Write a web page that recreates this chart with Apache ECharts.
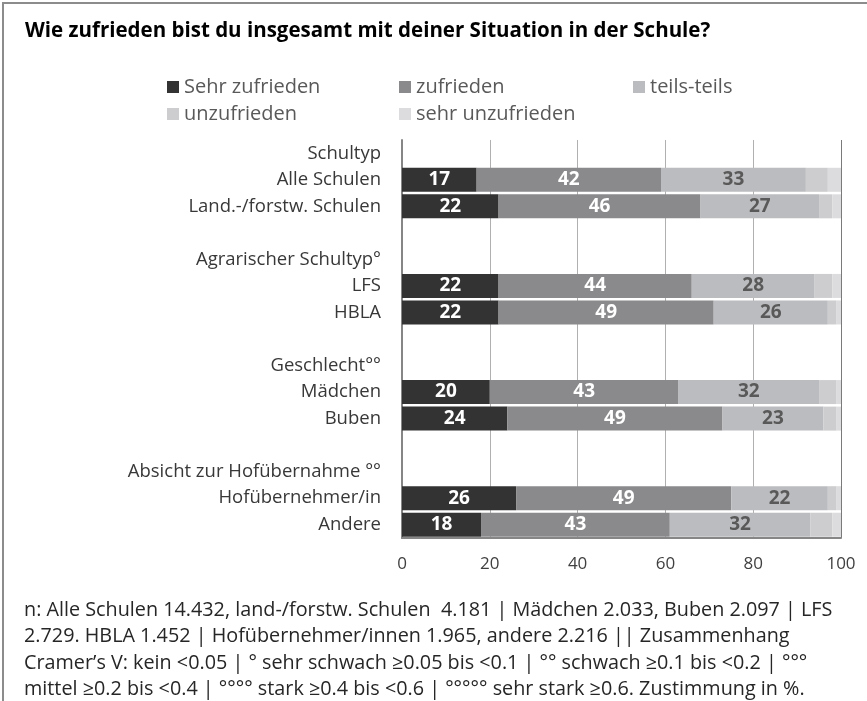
<!DOCTYPE html>
<html>
<head>
<meta charset="utf-8">
<script src="https://cdn.jsdelivr.net/npm/echarts@6/dist/echarts.min.js"></script>
<style>
  html, body { margin: 0; padding: 0; background: #fff; }
  #chart { width: 867px; height: 701px; }
</style>
</head>
<body>
<div id="chart"></div>
<script>
const FONT = '"Open Sans", sans-serif'

const categories = [
  'Schultyp', 'Alle Schulen', 'Land.-/forstw. Schulen', ' ',
  'Agrarischer Schultyp°', 'LFS', 'HBLA', '  ',
  'Geschlecht°°', 'Mädchen', 'Buben', '   ',
  'Absicht zur Hofübernahme °°', 'Hofübernehmer/in', 'Andere'
]
const seriesNames = ['Sehr zufrieden', 'zufrieden', 'teils-teils', 'unzufrieden', 'sehr unzufrieden']
const sehrZufrieden   = ['-', 17, 22, '-', '-', 22, 22, '-', '-', 20, 24, '-', '-', 26, 18]
const zufrieden       = ['-', 42, 46, '-', '-', 44, 49, '-', '-', 43, 49, '-', '-', 49, 43]
const teilsTeils      = ['-', 33, 27, '-', '-', 28, 26, '-', '-', 32, 23, '-', '-', 22, 32]
const unzufrieden     = ['-', 5, 3, '-', '-', 4, 2, '-', '-', 4, 3, '-', '-', 2, 5]
const sehrUnzufrieden = ['-', 3, 2, '-', '-', 2, 1, '-', '-', 1, 1, '-', '-', 1, 2]
const xTicks = [0, 20, 40, 60, 80, 100]

const footnote = [
  'n: Alle Schulen 14.432, land-/forstw. Schulen  4.181 | Mädchen 2.033, Buben 2.097 | LFS',
  '2.729. HBLA 1.452 | Hofübernehmer/innen 1.965, andere 2.216 || Zusammenhang',
  'Cramer’s V: kein <0.05 | ° sehr schwach ≥0.05 bis <0.1 | °° schwach ≥0.1 bis <0.2 | °°°',
  'mittel ≥0.2 bis <0.4 | °°°° stark ≥0.4 bis <0.6 | °°°°° sehr stark ≥0.6. Zustimmung in %.'
]

const colors = ['#333333', '#8a8a8c', '#bbbcbf', '#cdcdcf', '#dcdcde']
const values = [sehrZufrieden, zufrieden, teilsTeils, unzufrieden, sehrUnzufrieden]
const labelColors = ['#ffffff', '#ffffff', '#595959', null, null]

// legend positions (two rows, fixed columns)
const legendPos = [[167, 77], [399, 77], [633, 77], [167, 104], [399, 104]]

const chart = echarts.init(document.getElementById('chart'), null, { renderer: 'canvas' })

const option = {
  backgroundColor: '#fff',
  animation: false,
  textStyle: { fontFamily: FONT },
  title: {
    text: 'Wie zufrieden bist du insgesamt mit deiner Situation in der Schule?',
    left: 20,
    top: 16,
    textStyle: { fontFamily: FONT, fontSize: 20.5, fontWeight: 'bold', color: '#000' }
  },
  legend: seriesNames.map((n, i) => ({
    data: [n],
    left: legendPos[i][0],
    top: legendPos[i][1],
    icon: 'rect',
    itemWidth: 12,
    itemHeight: 12,
    padding: 0,
    selectedMode: false,
    textStyle: { fontFamily: FONT, fontSize: 20, color: '#595959', padding: [0, 0, 0, 0] }
  })),
  grid: { left: 402, right: 26, top: 140, bottom: 163, containLabel: false },
  xAxis: {
    type: 'value',
    min: 0,
    max: 100,
    interval: 20,
    axisLine: { show: true, lineStyle: { color: '#868686', width: 2 } },
    axisTick: { show: false },
    axisLabel: {
      margin: 18,
      fontFamily: FONT,
      fontSize: 17,
      color: '#404040',
      formatter: v => xTicks.includes(v) ? String(v) : ''
    },
    splitLine: {
      show: true,
      lineStyle: { color: ['#868686', '#b0b0b0', '#b0b0b0', '#b0b0b0', '#b0b0b0', '#7a7a7a'], width: 1 }
    }
  },
  yAxis: {
    type: 'category',
    inverse: true,
    data: categories,
    axisLine: { show: true, lineStyle: { color: '#868686', width: 2 } },
    axisTick: { show: false },
    axisLabel: { margin: 21, fontFamily: FONT, fontSize: 18.5, color: '#383838', interval: 0 }
  },
  graphic: [
    {
      type: 'rect',
      shape: { x: 3, y: 3, width: 900, height: 800 },
      style: { fill: 'none', stroke: '#8c8c8c', lineWidth: 2 },
      silent: true
    },
    ...footnote.map((t, i) => ({
      type: 'text',
      left: 24,
      top: 600 + i * 26.5,
      style: { text: t, fontFamily: FONT, fontSize: 19.8, fill: '#262626' },
      silent: true
    }))
  ],
  series: seriesNames.map((n, i) => ({
    name: n,
    type: 'bar',
    stack: 'total',
    barWidth: 24,
    data: values[i],
    itemStyle: { color: colors[i] },
    label: {
      show: labelColors[i] !== null,
      position: 'inside',
      fontFamily: FONT,
      fontSize: 19,
      fontWeight: 'bold',
      color: labelColors[i] || '#000',
      formatter: p => Math.round(p.value)
    }
  }))
}

chart.setOption(option)
</script>
</body>
</html>
